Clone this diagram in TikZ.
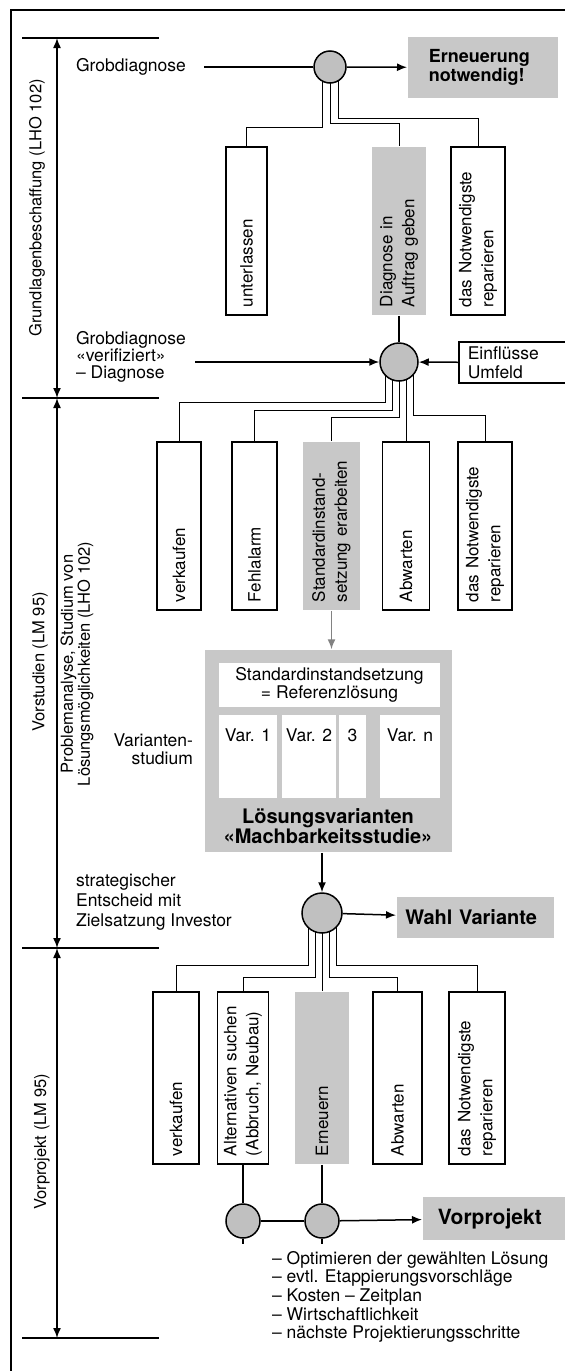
\documentclass[tikz,border=0pt]{standalone}
\usepackage{fontspec}
\setmainfont{TeX Gyre Heros}
\usetikzlibrary{arrows.meta,backgrounds,calc}
\definecolor{panelgray}{RGB}{200,200,200}
\definecolor{hubgray}{RGB}{192,192,192}
\definecolor{leadgray}{RGB}{130,130,130}

\begin{document}
\begin{tikzpicture}[x=1pt,y=-1pt,line width=1.5pt,
  font=\fontsize{17.5}{18.5}\selectfont,>={Latex[length=10pt,width=8pt]},
  hub/.style={circle,draw,fill=hubgray,inner sep=0pt,minimum size=#1},
  option/.style={draw,rotate=90,align=left,text width=#1,inner xsep=8pt,inner ysep=0pt,
    font=\fontsize{17}{22}\selectfont},
  chosen/.style={option=#1,draw=none,fill=panelgray},
  result/.style={fill=panelgray,anchor=west,align=left,font=\bfseries\fontsize{21}{19}\selectfont},
  phase/.style={rotate=90,font=\fontsize{16.5}{17}\selectfont},
  varbox/.style={fill=white,inner xsep=2pt,inner ysep=4pt,text height=22pt,text depth=53pt}]
\useasboundingbox (0,0) rectangle (565,1371);
% frame and the three phases on the left
\draw (565,10) -| (11,1371);
\foreach \y/\n in {38/p0,398/p1,948/p2,1338/p3} {
  \draw (22,\y) -- (159,\y);
  \coordinate (\n) at (57,\y);
}
\draw[<->] (p0) -- (p1);
\draw[<->] (p1) -- (p2);
\draw[<->] (p2) -- (p3);
\node[phase] (ph1) at (37,208) {Grundlagenbeschaffung (LHO 102)};
\node[phase] (ph2) at (40,662) {Vorstudien (LM 95)};
\node[phase,align=center] (ph2b) at (77,664) {Problemanalyse, Studium von\\Lösungsmöglichkeiten (LHO 102)};
\node[phase] (ph3) at (42,1142) {Vorprojekt (LM 95)};
% Grobdiagnose
\node[hub=32pt] (c1) at (330,67) {};
\node[anchor=west] (g1) at (72,67) {Grobdiagnose};
\coordinate (g1e) at (204,67);
\draw (g1e) -- (c1);
\node[result,font=\bfseries\fontsize{18}{16}\selectfont,minimum width=150pt,minimum height=61pt,
  text width=108pt,inner xsep=21pt] (renew) at (407,67.5) {Erneuerung\\notwendig!};
\draw[->] (c1) -- (renew);
\node[option=152pt,minimum height=41pt] (b11) at (246.5,231) {unterlassen};
\node[chosen=152pt,minimum height=54pt] (b12) at (399,231) {Diagnose in\\Auftrag geben};
\node[option=152pt,minimum height=54pt] (b13) at (478,231) {das Notwendigste\\reparieren};
% Diagnose
\node[hub=38pt] (c2) at (399,362) {};
\draw (b12.west) -- (c2);
\node[anchor=west,align=left,font=\fontsize{17.5}{17}\selectfont] (g2) at (72,357) {Grobdiagnose\\«verifiziert»\\– Diagnose};
\coordinate (g2e) at (195,362);
\draw[->] (g2e) -- (c2);
\node[draw,fill=white,anchor=west,align=left,text width=100pt,inner xsep=9pt,minimum height=41pt] (env) at (458,362.5) {Einflüsse\\Umfeld};
\draw[->] (env) -- (c2);
\node[option=152pt,minimum height=44pt] (b21) at (179,526) {verkaufen};
\node[option=152pt,minimum height=45pt] (b22) at (254.5,526) {Fehlalarm};
\node[chosen=152pt,minimum height=57pt] (b23) at (331.5,526) {Standardinstand-\\setzung erarbeiten};
\node[option=152pt,minimum height=47pt] (b24) at (406,526) {Abwarten};
\node[option=152pt,minimum height=54pt] (b25) at (485,526) {das Notwendigste\\reparieren};
% Variantenstudium
\node[fill=panelgray,minimum width=247pt,minimum height=202pt,inner sep=0pt] (study) at (328.5,751) {};
\node[fill=white,minimum width=221pt,minimum height=44pt,align=center,inner sep=0pt] (ref) at (329.5,685) {Standardinstandsetzung\\= Referenzlösung};
\node[varbox,minimum width=58pt] (v1) at (248,756.5) {Var. 1};
\node[varbox,minimum width=54pt] (v2) at (309,756.5) {Var. 2};
\node[varbox,minimum width=27pt] (v3) at (352.5,756.5) {3};
\node[varbox,minimum width=60pt] (vn) at (410,756.5) {Var. n};
\node[font=\bfseries\fontsize{20}{19}\selectfont,align=center] (studyname) at (328,826) {Lösungsvarianten\\«Machbarkeitsstudie»};
\node[anchor=east,align=right] (varstud) at (197,749) {Varianten-\\studium};
\draw[->,leadgray] (b23.west) -- (b23.west |- study.north);
% Wahl Variante
\node[hub=40pt] (c3) at (322,913) {};
\draw[->] (c3 |- study.south) -- (c3);
\node[anchor=west,align=left,font=\fontsize{17.5}{20}\selectfont] (goal) at (72,902) {strategischer\\Entscheid mit\\Zielsatzung Investor};
\node[result,font=\bfseries\fontsize{20}{19}\selectfont,minimum width=157pt,minimum height=41pt,
  text width=140pt,inner xsep=8pt] (pick) at (396,917.5) {Wahl Variante};
\draw[->] (c3) -- (pick);
\node[option=156pt,minimum height=46pt] (b31) at (176,1078) {verkaufen};
\node[option=156pt,minimum height=51pt] (b32) at (243,1078) {Alternativen suchen\\(Abbruch, Neubau)};
\node[chosen=156pt,minimum height=54pt] (b33) at (322,1078) {Erneuern};
\node[option=156pt,minimum height=49pt] (b34) at (397.5,1078) {Abwarten};
\node[option=156pt,minimum height=56pt] (b35) at (477,1078) {das Notwendigste\\reparieren};
% Vorprojekt
\node[hub=34pt] (c4) at (243,1221) {};
\node[hub=34pt] (c5) at (322,1221) {};
\draw (b32.west) -- (c4);
\draw (b33.west) -- (c5);
\draw (c4) -- (c5);
\draw (c4.south) -- ++(0,5);
\draw (c5.south) -- ++(0,5);
\node[result,minimum width=160pt,minimum height=43pt,text width=130pt,inner xsep=9pt] (pre) at (422,1218.5) {Vorprojekt};
\draw[->] (c5) -- (pre);
\node[anchor=north west,align=left,font=\fontsize{17.5}{18.7}\selectfont] (todo) at (268,1247) {– Optimieren der gewählten Lösung\\– evtl. Etappierungsvorschläge\\– Kosten – Zeitplan\\– Wirtschaftlichkeit\\– nächste Projektierungsschritte};
% branches, under the hubs
\begin{scope}[on background layer]
\fill[white] (0,0) rectangle (565,1371);
\draw ([xshift=-8pt]c1.center) -- ++(0,60) -| (b11.east);
\draw (c1.center) -- ++(0,56) -| (b12.east);
\draw ([xshift=8pt]c1.center) -- ++(0,51) -| (b13.east);
\draw ([xshift=-14pt]c2.center) -- ++(0,40) -| (b21.east);
\draw ([xshift=-7pt]c2.center) -- ++(0,48) -| (b22.east);
\draw (c2.center) -- ++(0,55) -| (b23.east);
\draw (c2.center -| b24.east) -- (b24.east);
\draw ([xshift=14pt]c2.center) -- ++(0,53) -| (b25.east);
\draw ([xshift=-14pt]c3.center) -- ++(0,52) -| (b31.east);
\draw ([xshift=-7pt]c3.center) -- ++(0,64) -| (b32.east);
\draw (c3.center) -- (b33.east);
\draw ([xshift=7pt]c3.center) -- ++(0,64) -| (b34.east);
\draw ([xshift=14pt]c3.center) -- ++(0,52) -| (b35.east);
\end{scope}
\end{tikzpicture}
\end{document}
